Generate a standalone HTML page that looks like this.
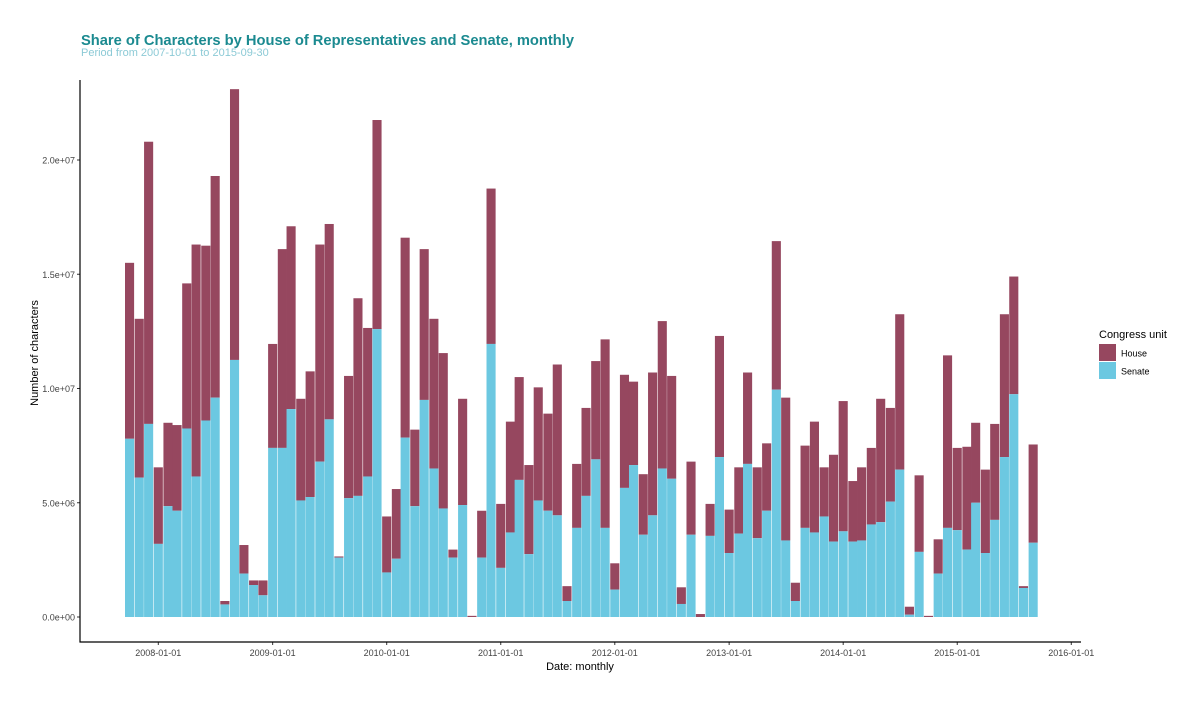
<!DOCTYPE html>
<html><head><meta charset="utf-8"><style>
body{margin:0;background:#fff;font-family:"Liberation Sans",Arial,sans-serif;}
</style></head><body>
<svg id="chart" width="1200" height="700" xmlns="http://www.w3.org/2000/svg" font-family="Liberation Sans, Arial, sans-serif">
<text x="81" y="45" font-size="14.7" font-weight="bold" fill="#1b8a90">Share of Characters by House of Representatives and Senate, monthly</text>
<text x="81" y="56" font-size="11" fill="#8ccad6">Period from 2007-10-01 to 2015-09-30</text>
<g id="bars"></g>
<g id="yaxis"></g>
<g id="xaxis"></g>
<line x1="80" y1="80" x2="80" y2="642.5" stroke="#000" stroke-width="1.2"/>
<line x1="79.5" y1="642" x2="1081" y2="642" stroke="#000" stroke-width="1.2"/>
<text transform="translate(38,353) rotate(-90)" text-anchor="middle" font-size="11">Number of characters</text>
<text x="580" y="670" text-anchor="middle" font-size="11">Date: monthly</text>
<g>
<text x="1099" y="338" font-size="11">Congress unit</text>
<rect x="1099" y="344" width="17" height="17" fill="#96475f"/>
<text x="1121" y="356.5" font-size="9">House</text>
<rect x="1099" y="362" width="17" height="17" fill="#6cc8e1"/>
<text x="1121" y="374.5" font-size="9">Senate</text>
</g>
</svg>
<script>
const startYear = 2007, startMonth = 10;
const totals = [15.5,13.05,20.8,
6.55,8.5,8.4,14.6,16.3,16.25,19.3,0.7,23.1,3.15,1.6,1.6,
11.95,16.1,17.1,9.55,10.75,16.3,17.2,2.65,10.55,13.95,12.65,21.75,
4.4,5.6,16.6,8.2,16.1,13.05,11.55,2.95,9.55,0.05,4.65,18.75,
4.95,8.55,10.5,6.65,10.05,8.9,11.05,1.35,6.7,9.15,11.2,12.15,
2.35,10.6,10.3,6.25,10.7,12.95,10.55,1.3,6.8,0.13,4.95,12.3,
4.7,6.55,10.7,6.55,7.6,16.45,9.6,1.5,7.5,8.55,6.55,7.1,
9.45,5.95,6.55,7.4,9.55,9.15,13.25,0.45,6.2,0.05,3.4,11.45,
7.4,7.45,8.5,6.45,8.45,13.25,14.9,1.35,7.55];
const senate = [7.8,6.1,8.45,
3.2,4.85,4.65,8.25,6.15,8.6,9.6,0.55,11.25,1.9,1.4,0.95,
7.4,7.4,9.1,5.1,5.25,6.8,8.65,2.6,5.2,5.3,6.15,12.6,
1.95,2.55,7.85,4.85,9.5,6.5,4.75,2.6,4.9,0,2.6,11.95,
2.15,3.7,6.0,2.75,5.1,4.65,4.45,0.7,3.9,5.3,6.9,3.9,
1.2,5.65,6.65,3.6,4.45,6.5,6.05,0.57,3.6,0,3.55,7.0,
2.8,3.65,6.7,3.45,4.65,9.95,3.35,0.7,3.9,3.7,4.4,3.3,
3.75,3.3,3.35,4.05,4.15,5.05,6.45,0.1,2.85,0,1.9,3.9,
3.8,2.95,5.0,2.8,4.25,7.0,9.75,1.27,3.25];
const yTicks = [0,5,10,15,20];
const yTickLabels = ["0.0e+00","5.0e+06","1.0e+07","1.5e+07","2.0e+07"];
const xTickYears = [2008,2009,2010,2011,2012,2013,2014,2015,2016];

const NS='http://www.w3.org/2000/svg';
const t0 = Date.UTC(2008,0,1);
function xScale(ms){return 158.3 + (ms - t0)/86400000*0.31245;}
function yScale(v){return 617 - v*22.85;}
function mk(tag,attrs,parent){const e=document.createElementNS(NS,tag);for(const k in attrs)e.setAttribute(k,attrs[k]);parent.appendChild(e);return e;}
const gb=document.getElementById('bars');
const bw=9.1;
totals.forEach((tot,i)=>{
  const m=startMonth-1+i;
  const cx=xScale(Date.UTC(startYear+Math.floor(m/12),m%12,1));
  const s=senate[i];
  const h=mk('rect',{x:cx-bw/2,y:yScale(tot),width:bw,height:Math.max(0,yScale(s)-yScale(tot)),fill:'#96475f'},gb);
  
  
  const r=mk('rect',{x:cx-bw/2,y:yScale(s),width:bw,height:yScale(0)-yScale(s),fill:'#6cc8e1'},gb);
  
  
});
const gy=document.getElementById('yaxis');
yTicks.forEach((v,i)=>{
  const y=yScale(v);
  const l=mk('line',{x1:77,x2:80,y1:y,y2:y,stroke:'#333'},gy);
  
  
  const t=mk('text',{x:75,y:y+3.5,'text-anchor':'end','font-size':'9',fill:'#444'},gy);
  
  
  t.textContent=yTickLabels[i];
});
const gx=document.getElementById('xaxis');
xTickYears.forEach(yr=>{
  const x=xScale(Date.UTC(yr,0,1));
  const l=mk('line',{x1:x,x2:x,y1:642,y2:645,stroke:'#333'},gx);
  
  
  const t=mk('text',{x:x,y:656,'text-anchor':'middle','font-size':'9',fill:'#444'},gx);
  
  
  t.textContent=yr+'-01-01';
});
</script>
</body></html>
